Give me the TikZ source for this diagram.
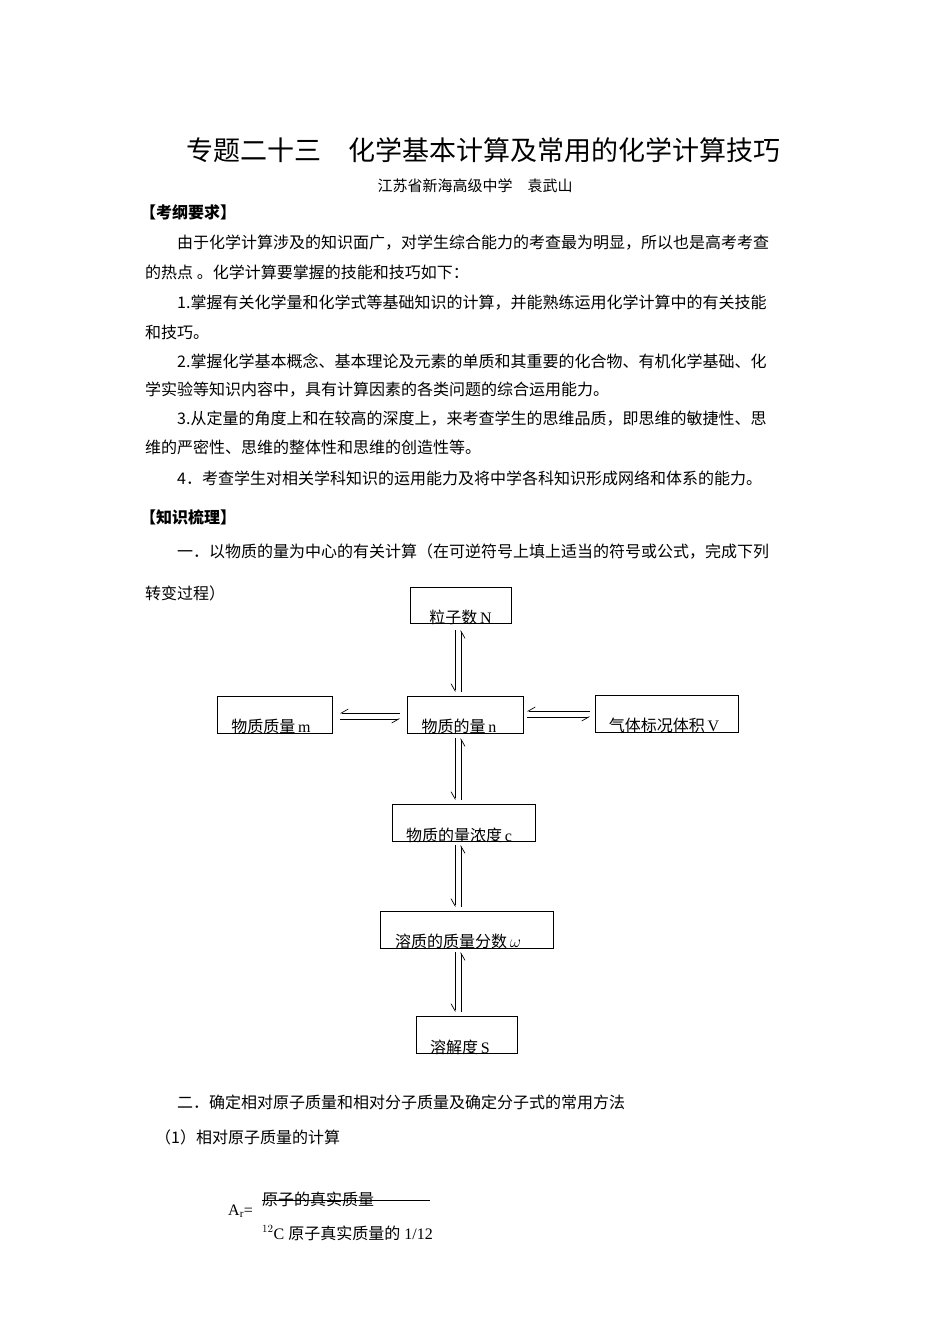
\documentclass[tikz,border=0pt]{standalone}
\usepackage{fontspec}
\setmainfont{Liberation Serif}
\newfontfamily\cjk{Noto Sans CJK SC}
\usetikzlibrary{arrows.meta}
\begin{document}
\begin{tikzpicture}[x=1pt,y=-1pt,
  txt/.style={anchor=west,inner sep=0pt,font=\cjk\fontsize{16}{18}\selectfont},
  box/.style={draw,line width=0.8pt},
  lab/.style={inner sep=0pt,font=\fontsize{16}{18}\selectfont},
  hl/.style={line width=0.7pt,-{Straight Barb[left,length=7pt,width=8pt]}},
  hr/.style={line width=0.7pt,-{Straight Barb[right,length=7pt,width=8pt]}}]
\useasboundingbox (0,0) rectangle (950,1344);
\fill[white] (0,0) rectangle (950,1344);
\node[inner sep=0pt,font=\cjk\fontsize{27}{30}\selectfont] (title) at (483,150) {专题二十三\quad 化学基本计算及常用的化学计算技巧};
\node[inner sep=0pt,font=\cjk\fontsize{15}{17}\selectfont] (author) at (475,186) {江苏省新海高级中学\quad 袁武山};
\node[txt,font=\cjk\bfseries\fontsize{16}{18}\selectfont] (h1) at (140,212) {【考纲要求】};
\node[txt] (p1) at (177,243) {由于化学计算涉及的知识面广，对学生综合能力的考查最为明显，所以也是高考考查};
\node[txt] (p2) at (145,272) {的热点 。化学计算要掌握的技能和技巧如下：};
\node[txt] (p3) at (177,303) {1.掌握有关化学量和化学式等基础知识的计算，并能熟练运用化学计算中的有关技能};
\node[txt] (p4) at (145,332) {和技巧。};
\node[txt] (p5) at (177,361) {2.掌握化学基本概念、基本理论及元素的单质和其重要的化合物、有机化学基础、化};
\node[txt] (p6) at (145,390) {学实验等知识内容中，具有计算因素的各类问题的综合运用能力。};
\node[txt] (p7) at (177,419) {3.从定量的角度上和在较高的深度上，来考查学生的思维品质，即思维的敏捷性、思};
\node[txt] (p8) at (145,447) {维的严密性、思维的整体性和思维的创造性等。};
\node[txt] (p9) at (177,478) {4．考查学生对相关学科知识的运用能力及将中学各科知识形成网络和体系的能力。};
\node[txt,font=\cjk\bfseries\fontsize{16}{18}\selectfont] (h2) at (140,517) {【知识梳理】};
\node[txt] (p10) at (177,552) {一．以物质的量为中心的有关计算（在可逆符号上填上适当的符号或公式，完成下列};
\node[txt] (p11) at (145,593) {转变过程）};
% boxes
\draw[box] (410,587) rectangle (511,623);
\node[lab] (N) at (460.5,617) {{\cjk 粒子数}\,N};
\draw[box] (217,696) rectangle (332,733);
\node[lab] (m) at (271,726) {{\cjk 物质质量}\,m};
\draw[box] (407,696) rectangle (523,733);
\node[lab] (n) at (459,726) {{\cjk 物质的量}\,n};
\draw[box] (595,695) rectangle (738,732);
\node[lab] (V) at (664,725) {{\cjk 气体标况体积}\,V};
\draw[box] (392,804) rectangle (535,841);
\node[lab] (c) at (459,835) {{\cjk 物质的量浓度}\,c};
\draw[box] (380,911) rectangle (553,948);
\node[lab] (w) at (458,941) {{\cjk 溶质的质量分数}\,$\omega$};
\draw[box] (416,1016) rectangle (517,1053);
\node[lab] (S) at (460,1047) {{\cjk 溶解度}\,S};
% arrows
\foreach \ya/\yb in {630/692,738/800,845/907,952/1012}{
  \draw[hr] (455,\ya) -- (455,\yb);
  \draw[hr] (461,\yb) -- (461,\ya);
}
\draw[hr] (400,713) -- (340,713);
\draw[hr] (340,719) -- (400,719);
\draw[hr] (590,711) -- (527,711);
\draw[hr] (527,717) -- (590,717);
\node[txt] (p12) at (177,1102) {二．确定相对原子质量和相对分子质量及确定分子式的常用方法};
\node[txt] (p13) at (155,1137) {（1）相对原子质量的计算};
\node[lab,anchor=west] (Ar) at (228,1211) {A$_{\mathrm r}$=};
\node[txt] (num) at (262,1199) {原子的真实质量};
\draw[line width=0.8pt] (262,1200) -- (430,1200);
\node[lab,anchor=west] (den) at (262,1233) {$^{12}$C {\cjk 原子真实质量的} 1/12};
\end{tikzpicture}
\end{document}
